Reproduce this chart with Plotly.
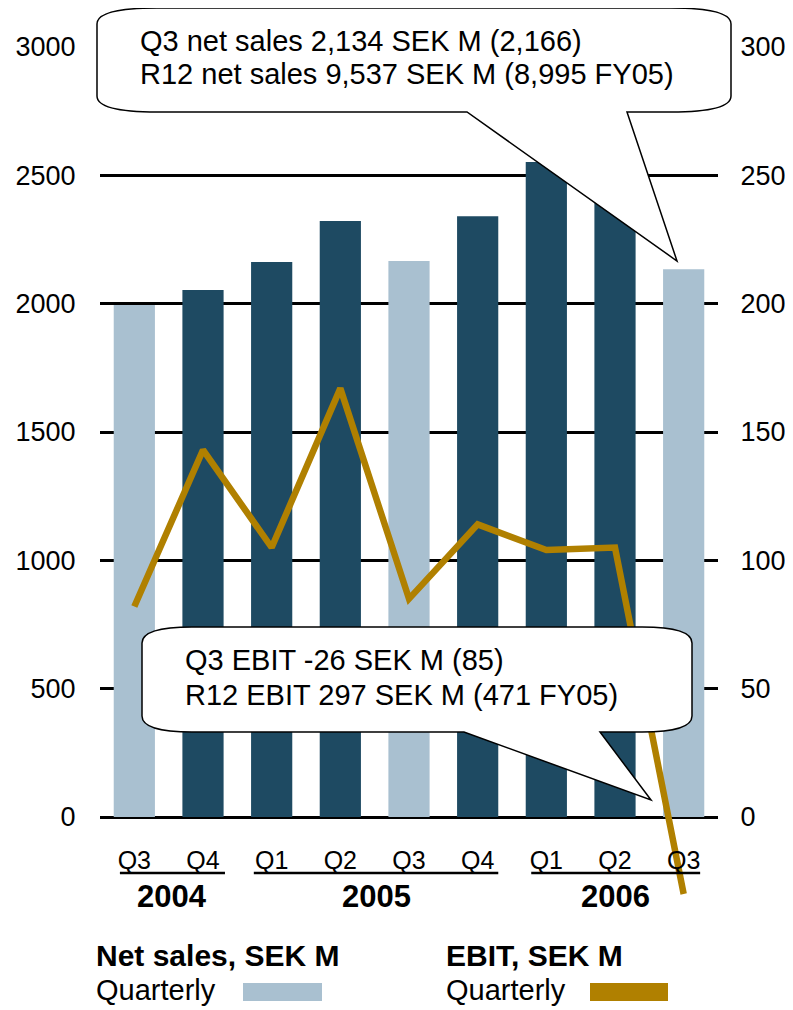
import plotly.graph_objects as go

# chart values
quarters = ["Q3", "Q4", "Q1", "Q2", "Q3", "Q4", "Q1", "Q2", "Q3"]
net_sales = [1995, 2053, 2162, 2322, 2166, 2341, 2552, 2510, 2134]
ebit = [82, 143, 105, 167, 85, 114, 104, 105, -30]
is_q3 = [True, False, False, False, True, False, False, False, True]
years = ["2004", "2005", "2006"]
year_span = [(-0.21, 1.32), (1.74, 5.3), (5.78, 8.24)]
left_ticks = [0, 500, 1000, 1500, 2000, 2500, 3000]
right_ticks = [0, 50, 100, 150, 200, 250, 300]

LIGHT = "#A9C0D0"
DARK = "#1E4A62"
GOLD = "#B08000"
FONT = "Liberation Sans, Arial, sans-serif"

# page is 793x1010, the body keeps its 8px margin
PAD = 8
W, H = 793 - 2 * PAD, 1010 - PAD


def px(x):
    return (x - PAD) / W


def py(y):
    return 1 - (y - PAD) / H


def bubble(left, top, right, bottom, rx, ry, p1, tip, p2):
    """speech bubble path in paper coords, page pixel input"""
    pts = [
        ("M", [(left + rx, top)]),
        ("L", [(right - rx, top)]),
        ("Q", [(right, top), (right, top + ry)]),
        ("L", [(right, bottom - ry)]),
        ("Q", [(right, bottom), (right - rx, bottom)]),
        ("L", [(p2, bottom)]),
        ("L", [tip]),
        ("L", [(p1, bottom)]),
        ("L", [(left + rx, bottom)]),
        ("Q", [(left, bottom), (left, bottom - ry)]),
        ("L", [(left, top + ry)]),
        ("Q", [(left, top), (left + rx, top)]),
    ]
    s = ""
    for cmd, coords in pts:
        s += cmd + " ".join("%.5f,%.5f" % (px(x), py(y)) for x, y in coords) + " "
    return s + "Z"


fig = go.Figure()

fig.add_trace(go.Bar(
    x=list(range(len(net_sales))), y=net_sales,
    marker=dict(color=[LIGHT if q else DARK for q in is_q3], line=dict(width=0)),
    width=0.6, showlegend=False,
))
fig.add_trace(go.Scatter(
    x=list(range(len(ebit))), y=ebit, yaxis="y2", mode="lines",
    line=dict(color=GOLD, width=6.5), showlegend=False,
))

y_bottom_px = 817 + 400 * 770 / 3000

fig.update_layout(
    width=W, height=H,
    margin=dict(l=0, r=0, t=0, b=0, autoexpand=False),
    paper_bgcolor="white", plot_bgcolor="white",
    font=dict(family=FONT, color="black"),
    xaxis=dict(
        domain=[px(100), px(718)], range=[-0.5, 8.5],
        anchor="free", position=py(817), automargin=False,
        tickvals=list(range(len(quarters))), ticktext=quarters,
        tickfont=dict(size=25), showgrid=False, zeroline=False, showline=False,
        ticks="outside", ticklen=0, ticklabelstandoff=21,
    ),
    yaxis=dict(
        domain=[py(y_bottom_px), py(47)], range=[-400, 3000], automargin=False,
        tickvals=left_ticks, tickfont=dict(size=27),
        showgrid=True, gridcolor="black", gridwidth=2.5, zeroline=False,
        ticks="outside", ticklen=0, ticklabelstandoff=18,
    ),
    yaxis2=dict(
        overlaying="y", side="right", range=[-40, 300], automargin=False,
        tickvals=right_ticks, tickfont=dict(size=27),
        showgrid=False, zeroline=False,
        ticks="outside", ticklen=0, ticklabelstandoff=16,
    ),
    bargap=0.4,
)

# callouts
fig.add_shape(type="path", xref="paper", yref="paper",
              path=bubble(97, 8, 731, 112, 60, 16, 467, (677, 261), 627),
              fillcolor="white", line=dict(color="black", width=1.5), layer="above")
fig.add_shape(type="path", xref="paper", yref="paper",
              path=bubble(142, 627, 692, 732, 50, 16, 464, (651, 800), 600),
              fillcolor="white", line=dict(color="black", width=1.5), layer="above")

callout_text = [
    ("Q3 net sales 2,134 SEK M (2,166)", 138, 41),
    ("R12 net sales 9,537 SEK M (8,995 FY05)", 138, 74),
    ("Q3 EBIT -26 SEK M (85)", 183, 660),
    ("R12 EBIT 297 SEK M (471 FY05)", 183, 695),
]
for txt, x0, y0 in callout_text:
    fig.add_annotation(text=txt, x=px(x0), y=py(y0), xref="paper", yref="paper",
                       xanchor="left", yanchor="middle", showarrow=False,
                       font=dict(size=29))

# year groups under the quarters
for yr, (a, b) in zip(years, year_span):
    fig.add_shape(type="line", xref="x", yref="paper", x0=a, x1=b,
                  y0=py(873), y1=py(873), line=dict(color="black", width=2.5))
    fig.add_annotation(text="<b>%s</b>" % yr, x=(a + b) / 2, y=py(896),
                       xref="x", yref="paper", showarrow=False,
                       yanchor="middle", font=dict(size=31))

# legend block
legend_items = [
    ("Net sales, SEK M", 94, (243, 322), LIGHT),
    ("EBIT, SEK M", 444, (590, 668), GOLD),
]
for title, x0, (r0, r1), col in legend_items:
    fig.add_annotation(text="<b>%s</b>" % title, x=px(x0), y=py(955),
                       xref="paper", yref="paper", xanchor="left", yanchor="middle",
                       showarrow=False, font=dict(size=30))
    fig.add_annotation(text="Quarterly", x=px(x0), y=py(990),
                       xref="paper", yref="paper", xanchor="left", yanchor="middle",
                       showarrow=False, font=dict(size=29))
    fig.add_shape(type="rect", xref="paper", yref="paper",
                  x0=px(r0), x1=px(r1), y0=py(1001), y1=py(983),
                  fillcolor=col, line=dict(width=0))

fig.write_html("out.html")
